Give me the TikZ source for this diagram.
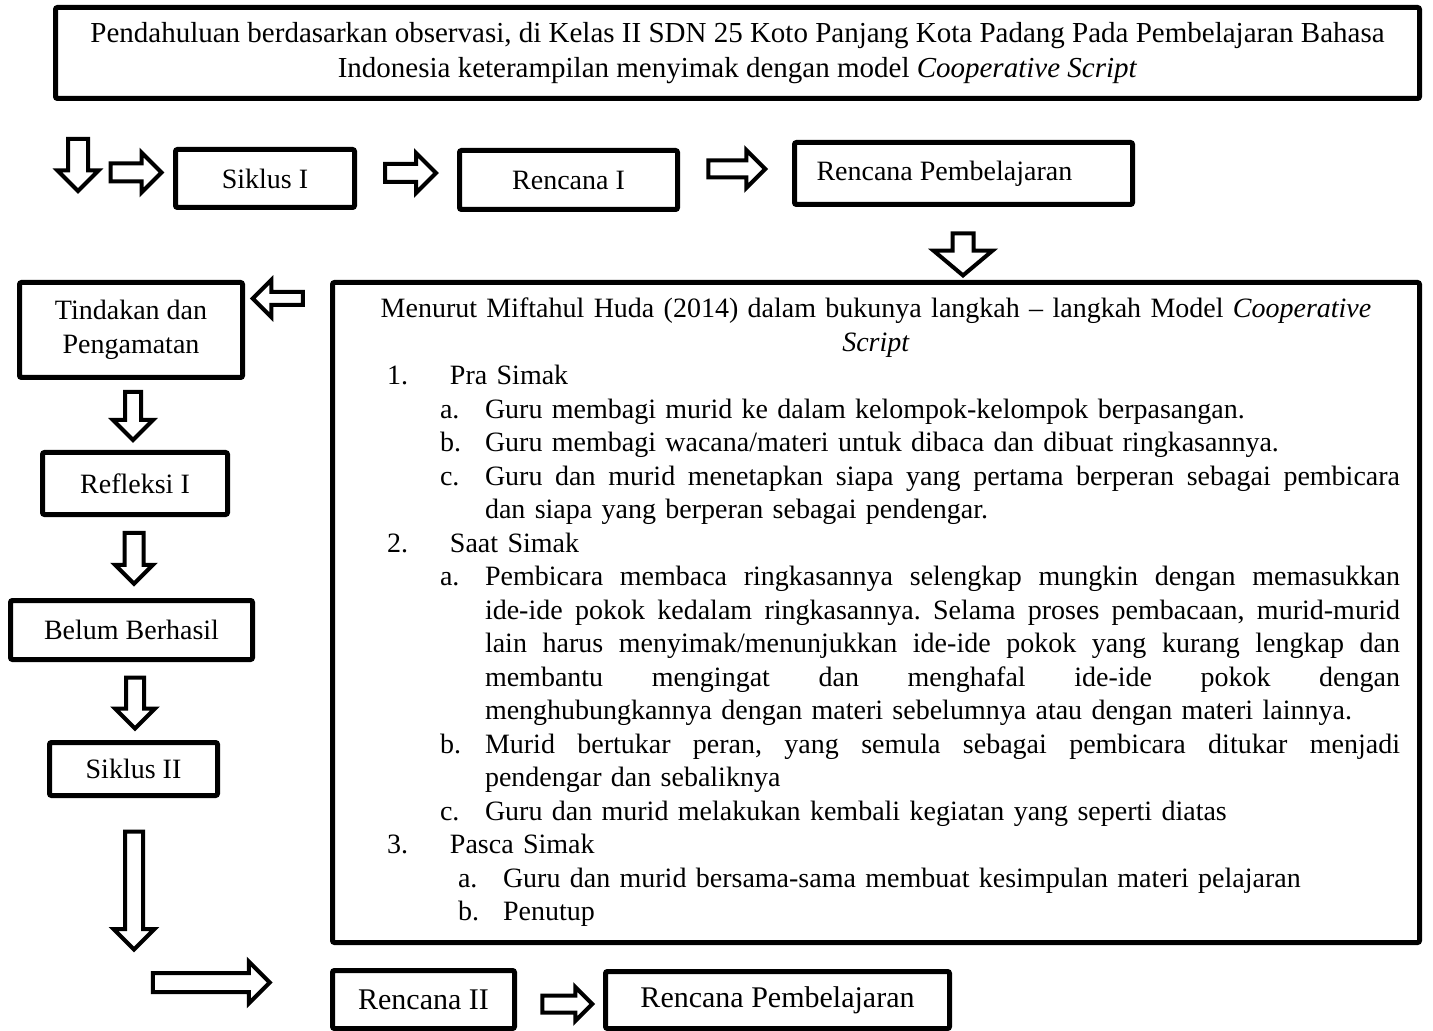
\documentclass[tikz,border=0pt]{standalone}
\usepackage{fontspec}
\setmainfont{Liberation Serif}
\usetikzlibrary{shapes.arrows}

% rows of the Cooperative Script list
\newcommand{\fillline}[1]{\makebox[457.5pt][s]{\spaceskip=.25em plus 1fil\relax#1}}
\newcommand{\numrow}[2]{\noindent\hspace*{17.5pt}\makebox[31.5pt][l]{#1}#2\par}
\newcommand{\subrow}[2]{\noindent\hspace*{44pt}\makebox[22.5pt][l]{#1}#2\par}
\newcommand{\subfill}[2]{\noindent\hspace*{44pt}\makebox[22.5pt][l]{#1}\fillline{#2}\par}
\newcommand{\contfill}[1]{\noindent\hspace*{66.5pt}\fillline{#1}\par}
\newcommand{\controw}[1]{\noindent\hspace*{66.5pt}#1\par}
\newcommand{\pascarow}[2]{\noindent\hspace*{53pt}\makebox[22.5pt][l]{#1}#2\par}

\begin{document}
\begin{tikzpicture}[
  x=0.5pt,y=-0.5pt,
  font=\fontsize{14}{16.75}\selectfont\frenchspacing,
  box/.style={draw,line width=2.5pt,rounded corners=1pt,inner sep=0pt},
  bigfont/.style={font=\fontsize{15}{18}\selectfont},
  harrow/.style={single arrow,draw,line width=2pt,fill=white,inner xsep=0pt,
    single arrow head indent=0pt,minimum height=25.5pt,minimum width=18pt,
    inner ysep=3.5pt,single arrow head extend=5.5pt}
]
  \fill[white] (0,0) rectangle (1433,1031);
  \useasboundingbox (0,0) rectangle (1433,1031);

  \node[box,align=center,font=\fontsize{14.5}{17.5}\selectfont,minimum width=682pt,
    minimum height=45.5pt] (intro) at (737.5,53)
    {Pendahuluan berdasarkan observasi, di Kelas II SDN 25 Koto Panjang Kota Padang Pada Pembelajaran Bahasa\\
     Indonesia keterampilan menyimak dengan model \textit{Cooperative Script}};

  % first cycle
  \node[box,minimum width=89.5pt,minimum height=29pt] (siklus1) at (265,178.5) {Siklus I};
  \node[box,minimum width=109pt,minimum height=29.5pt] (rencana1) at (568.5,180) {Rencana I};
  \node[box,minimum width=169pt,minimum height=31pt,text width=147pt,align=flush left] (plan1)
    at (963.5,173.5) {Rencana Pembelajaran};

  \node[box,minimum width=543.5pt,minimum height=330pt,text width=524pt] (huda) at (876,612.5) {%
    {\centering Menurut Miftahul Huda (2014) dalam bukunya langkah – langkah Model \textit{Cooperative}\\
     \textit{Script}\par}
    \numrow{1.}{Pra Simak}
    \subrow{a.}{Guru membagi murid ke dalam kelompok-kelompok berpasangan.}
    \subrow{b.}{Guru membagi wacana/materi untuk dibaca dan dibuat ringkasannya.}
    \subfill{c.}{Guru dan murid menetapkan siapa yang pertama berperan sebagai pembicara}
    \controw{dan siapa yang berperan sebagai pendengar.}
    \numrow{2.}{Saat Simak}
    \subfill{a.}{Pembicara membaca ringkasannya selengkap mungkin dengan memasukkan}
    \contfill{ide-ide pokok kedalam ringkasannya. Selama proses pembacaan, murid-murid}
    \contfill{lain harus menyimak/menunjukkan ide-ide pokok yang kurang lengkap dan}
    \contfill{membantu mengingat dan menghafal ide-ide pokok dengan}
    \controw{menghubungkannya dengan materi sebelumnya atau dengan materi lainnya.}
    \subfill{b.}{Murid bertukar peran, yang semula sebagai pembicara ditukar menjadi}
    \controw{pendengar dan sebaliknya}
    \subrow{c.}{Guru dan murid melakukan kembali kegiatan yang seperti diatas}
    \numrow{3.}{Pasca Simak}
    \pascarow{a.}{Guru dan murid bersama-sama membuat kesimpulan materi pelajaran}
    \pascarow{b.}{Penutup}};

  % left column
  \node[box,align=center,minimum width=111.5pt,minimum height=47.5pt] (tindakan) at (131,330)
    {Tindakan dan\\Pengamatan};
  \node[box,minimum width=92.5pt,minimum height=31pt] (refleksi) at (135,483.5) {Refleksi I};
  \node[box,minimum width=121pt,minimum height=29.5pt] (belum) at (131.5,630) {Belum Berhasil};
  \node[box,minimum width=84pt,minimum height=26.5pt] (siklus2) at (133.5,769) {Siklus II};

  % second cycle
  \node[box,bigfont,minimum width=91pt,minimum height=29pt] (rencana2) at (423.5,999.5) {Rencana II};
  \node[box,bigfont,minimum width=172pt,minimum height=28.5pt] (plan2) at (777.5,1000)
    {Rencana Pembelajaran};

  % block arrows
  \node[harrow,rotate=-90,minimum height=26pt,minimum width=18.5pt,inner ysep=4pt,
    single arrow head extend=5.25pt] (startdown) at (78,160) {};
  \node[harrow] (startright) at (131.5,172.5) {};
  \node[harrow] (tosiklus) at (406,173) {};
  \node[harrow,minimum height=28.5pt,minimum width=17pt,inner ysep=3.25pt,
    single arrow head extend=5.25pt] (torencana) at (732.5,169) {};
  \node[harrow,rotate=-90,minimum height=21pt,minimum width=27.5pt,inner ysep=4.25pt,
    single arrow head extend=9.5pt,single arrow tip angle=100] (tohuda) at (963,250) {};
  \node[harrow,rotate=180,minimum height=25pt,minimum width=16.5pt,inner ysep=2.25pt,
    single arrow head extend=6pt] (totindakan) at (281,298.5) {};
  \node[harrow,rotate=-90,minimum height=24pt,inner ysep=3pt,
    single arrow head extend=6pt] (torefleksi) at (133,412) {};
  \node[harrow,rotate=-90,minimum width=17pt,inner ysep=3.75pt,
    single arrow head extend=4.75pt] (tobelum) at (134,553.5) {};
  \node[harrow,rotate=-90] (tosiklus2) at (135,698.5) {};
  \node[harrow,rotate=-90,minimum height=59pt,minimum width=18.5pt,
    single arrow head extend=5.75pt] (longdown) at (134,886) {};
  \node[harrow,minimum height=58.5pt,minimum width=19pt,inner ysep=3.75pt,
    single arrow head extend=5.75pt] (longright) at (206.5,982.5) {};
  \node[harrow,minimum height=25pt,minimum width=15pt,inner ysep=3.25pt,
    single arrow head extend=4.25pt] (toplan2) at (563,1004) {};
\end{tikzpicture}
\end{document}
